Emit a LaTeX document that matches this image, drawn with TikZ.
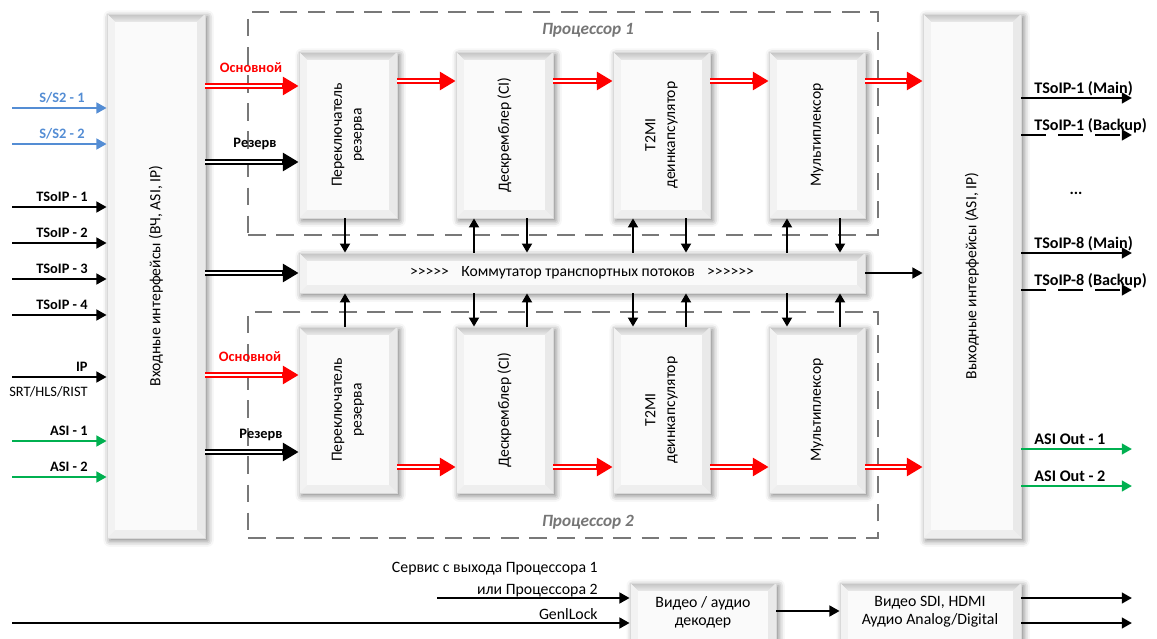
\documentclass[tikz,border=0pt]{standalone}
\usepackage{fontspec}
\setmainfont{Carlito}
\usetikzlibrary{arrows.meta,fit,shadows.blur}
\definecolor{sblue}{RGB}{84,141,212}
\definecolor{sgreen}{RGB}{0,176,80}
\definecolor{sred}{RGB}{255,0,0}
\definecolor{dashgray}{RGB}{120,120,120}
\definecolor{procgray}{RGB}{118,118,118}
\newcommand{\fblk}{\fontsize{8.9}{11.2}\selectfont}
\newcommand{\flab}{\fontsize{8.2}{9.5}\selectfont\bfseries}
\newcommand{\frlab}{\fontsize{9.2}{10}\selectfont\bfseries}
\newcommand{\fproc}{\fontsize{9.8}{11}\selectfont\bfseries\itshape}
\newcommand{\fbot}{\fontsize{9}{10.8}\selectfont}
\tikzset{
  bevelpic/.style={path picture={
    \path (path picture bounding box.north west) coordinate (pa)
          (path picture bounding box.north east) coordinate (pb)
          (path picture bounding box.south east) coordinate (pc)
          (path picture bounding box.south west) coordinate (pd);
    \shade[top color=gray!48, bottom color=gray!16] (pa) -- (pb) -- ([xshift=-4.5pt,yshift=-4.5pt]pb) -- ([xshift=4.5pt,yshift=-4.5pt]pa) -- cycle;
    \fill[gray!10] (pa) -- ([xshift=4.5pt,yshift=-4.5pt]pa) -- ([xshift=4.5pt,yshift=4.5pt]pd) -- (pd) -- cycle;
    \fill[gray!17] (pb) -- ([xshift=-4.5pt,yshift=-4.5pt]pb) -- ([xshift=-4.5pt,yshift=4.5pt]pc) -- (pc) -- cycle;
    \fill[gray!13] (pd) -- ([xshift=4.5pt,yshift=4.5pt]pd) -- ([xshift=-4.5pt,yshift=4.5pt]pc) -- (pc) -- cycle;
  }},
  blk/.style={rectangle, inner sep=0pt, draw=gray!30, line width=0.4pt, fill=gray!4,
    blur shadow={shadow xshift=1.5pt, shadow yshift=-1.5pt, shadow blur radius=3.5pt, shadow opacity=50},
    bevelpic},
  procbox/.style={rectangle, inner sep=0pt, draw=dashgray, line width=1.1pt, dash pattern=on 10pt off 6pt},
  txt/.style={font=\fblk, align=center, inner sep=0pt, text=black},
  rtxt/.style={txt, rotate=90},
  lab/.style={font=\flab, inner sep=0pt},
  rlab/.style={font=\frlab, inner sep=0pt, anchor=base west},
  bot/.style={font=\fbot, inner sep=0pt, anchor=base east},
  arr/.style={line width=1.6pt, -{Triangle[length=5.8pt,width=6pt]}},
  varr/.style={line width=1.6pt, -{Triangle[length=5.2pt,width=5.6pt]}},
  darr/.style={line width=3.4pt, -{Triangle[length=9pt,width=10pt]},
    postaction={draw=white, line width=1.1pt, -, shorten >=9.3pt}},
  bdash/.style={arr, dash pattern=on 14pt off 7pt},
}
\begin{document}
\begin{tikzpicture}[x=0.02cm,y=-0.02cm]
\useasboundingbox (0,0) rectangle (1157,639);

% processor dashed frames
\node[procbox, fit={(248,12) (878,235)}] (p1) {};
\node[procbox, fit={(248,312) (878,538)}] (p2) {};
\node[font=\fproc, text=procgray, anchor=base, inner sep=0pt] (p1l) at (588,34) {Процессор 1};
\node[font=\fproc, text=procgray, anchor=base, inner sep=0pt] (p2l) at (588,526) {Процессор 2};

% big interface blocks
\node[blk, fit={(107,14) (205,538)}] (inb) {};
\node[rtxt] (inbt) at (inb.center) {Входные интерфейсы (ВЧ, ASI, IP)};
\node[blk, fit={(923,14) (1021,538)}] (outb) {};
\node[rtxt] (outbt) at (outb.center) {Выходные интерфейсы (ASI, IP)};

% processor 1 blocks
\node[blk, fit={(299,52) (397,218)}] (sw1) {};
\node[rtxt] (sw1t) at (sw1.center) {Переключатель\\резерва};
\node[blk, fit={(456,52) (553,218)}] (ds1) {};
\node[rtxt] (ds1t) at (ds1.center) {Дескремблер (CI)};
\node[blk, fit={(613,52) (710,218)}] (t21) {};
\node[rtxt] (t21t) at (t21.center) {T2MI\\деинкапсулятор};
\node[blk, fit={(769,52) (865,218)}] (mx1) {};
\node[rtxt] (mx1t) at (mx1.center) {Мультиплексор};

% processor 2 blocks
\node[blk, fit={(299,327) (397,493)}] (sw2) {};
\node[rtxt] (sw2t) at (sw2.center) {Переключатель\\резерва};
\node[blk, fit={(456,327) (553,493)}] (ds2) {};
\node[rtxt] (ds2t) at (ds2.center) {Дескремблер (CI)};
\node[blk, fit={(613,327) (710,493)}] (t22) {};
\node[rtxt] (t22t) at (t22.center) {T2MI\\деинкапсулятор};
\node[blk, fit={(769,327) (865,493)}] (mx2) {};
\node[rtxt] (mx2t) at (mx2.center) {Мультиплексор};

% switch bar
\node[blk, fit={(299,253) (865,293)}] (bar) {};
\node[txt] (bart) at (582,273) {>{}>{}>{}>{}>\hspace{7pt}Коммутатор транспортных потоков\hspace{7pt}>{}>{}>{}>{}>{}>};

% bottom blocks
\node[blk, fit={(630,583) (776,648)}] (dec) {};
\node[txt, font=\fbot, align=center] (dect) at (703,612) {Видео / аудио\\[-0.5pt]декодер};
\node[blk, fit={(840,583) (1021,648)}] (avo) {};
\node[txt, font=\fbot, align=center] (avot) at (930,612) {Видео SDI, HDMI\\[-0.5pt]Аудио Analog/Digital};

% ---------- inputs ----------
\coordinate (i1) at (12,108);
\draw[arr, sblue] (i1) -- (i1 -| inb.west);
\node[lab, text=sblue, anchor=base east] (i1l) at (85,102) {S/S2 - 1};
\coordinate (i2) at (12,144);
\draw[arr, sblue] (i2) -- (i2 -| inb.west);
\node[lab, text=sblue, anchor=base east] (i2l) at (85,138) {S/S2 - 2};
\coordinate (i3) at (12,207);
\draw[arr] (i3) -- (i3 -| inb.west);
\node[lab, anchor=base east] (i3l) at (88,201) {TSoIP - 1};
\coordinate (i4) at (12,243);
\draw[arr] (i4) -- (i4 -| inb.west);
\node[lab, anchor=base east] (i4l) at (88,237) {TSoIP - 2};
\coordinate (i5) at (12,279);
\draw[arr] (i5) -- (i5 -| inb.west);
\node[lab, anchor=base east] (i5l) at (88,273) {TSoIP - 3};
\coordinate (i6) at (12,315);
\draw[arr] (i6) -- (i6 -| inb.west);
\node[lab, anchor=base east] (i6l) at (88,309) {TSoIP - 4};
\coordinate (i7) at (12,377);
\draw[arr] (i7) -- (i7 -| inb.west);
\node[lab, anchor=base east] (i7l) at (88,371) {IP};
\node[inner sep=0pt, font=\fontsize{8.2}{9.5}\selectfont, anchor=base east] (i7s) at (88,396) {SRT/HLS/RIST};
\coordinate (i8) at (12,441);
\draw[arr, sgreen] (i8) -- (i8 -| inb.west);
\node[lab, anchor=base east] (i8l) at (88,435) {ASI - 1};
\coordinate (i9) at (12,477);
\draw[arr, sgreen] (i9) -- (i9 -| inb.west);
\node[lab, anchor=base east] (i9l) at (88,471) {ASI - 2};

% ---------- processor 1 flow ----------
\draw[darr, sred] (inb.east |- 0,86) -- (sw1.west |- 0,86);
\node[lab, text=sred, anchor=base] (m1l) at (251,72) {Основной};
\draw[darr, black] (inb.east |- 0,162) -- (sw1.west |- 0,162);
\node[lab, anchor=base] (r1l) at (255,147) {Резерв};
\draw[darr, sred] (sw1.east |- 0,81) -- (ds1.west |- 0,81);
\draw[darr, sred] (ds1.east |- 0,81) -- (t21.west |- 0,81);
\draw[darr, sred] (t21.east |- 0,81) -- (mx1.west |- 0,81);
\draw[darr, sred] (mx1.east |- 0,81) -- (outb.west |- 0,81);

% ---------- processor 2 flow ----------
\draw[darr, sred] (inb.east |- 0,375) -- (sw2.west |- 0,375);
\node[lab, text=sred, anchor=base] (m2l) at (250,361) {Основной};
\draw[darr, black] (inb.east |- 0,452) -- (sw2.west |- 0,452);
\node[lab, anchor=base] (r2l) at (261,438) {Резерв};
\draw[darr, sred] (sw2.east |- 0,467) -- (ds2.west |- 0,467);
\draw[darr, sred] (ds2.east |- 0,467) -- (t22.west |- 0,467);
\draw[darr, sred] (t22.east |- 0,467) -- (mx2.west |- 0,467);
\draw[darr, sred] (mx2.east |- 0,467) -- (outb.west |- 0,467);

% ---------- switch bar ----------
\draw[darr, black] (inb.east |- 0,273) -- (bar.west |- 0,273);
\draw[arr] (bar.east |- 0,273) -- (outb.west |- 0,273);

% vertical arrows, top
\draw[varr] (sw1.south -| 345,0) -- (bar.north -| 345,0);
\draw[varr] (bar.north -| 474,0) -- (ds1.south -| 474,0);
\draw[varr] (ds1.south -| 527,0) -- (bar.north -| 527,0);
\draw[varr] (bar.north -| 633,0) -- (t21.south -| 633,0);
\draw[varr] (t21.south -| 686,0) -- (bar.north -| 686,0);
\draw[varr] (bar.north -| 787,0) -- (mx1.south -| 787,0);
\draw[varr] (mx1.south -| 840,0) -- (bar.north -| 840,0);
% vertical arrows, bottom
\draw[varr] (sw2.north -| 345,0) -- (bar.south -| 345,0);
\draw[varr] (bar.south -| 474,0) -- (ds2.north -| 474,0);
\draw[varr] (ds2.north -| 527,0) -- (bar.south -| 527,0);
\draw[varr] (bar.south -| 633,0) -- (t22.north -| 633,0);
\draw[varr] (t22.north -| 686,0) -- (bar.south -| 686,0);
\draw[varr] (bar.south -| 787,0) -- (mx2.north -| 787,0);
\draw[varr] (mx2.north -| 840,0) -- (bar.south -| 840,0);

% ---------- outputs ----------
\coordinate (o1) at (1132,98);
\draw[arr] (outb.east |- o1) -- (o1);
\node[rlab] (o1l) at (1034,93) {TSoIP-1 (Main)};
\coordinate (o2) at (1132,135);
\draw[bdash] (outb.east |- o2) -- (o2);
\node[rlab] (o2l) at (1034,130) {TSoIP-1 (Backup)};
\node[font=\frlab, inner sep=0pt] (dots) at (1076,193) {...};
\coordinate (o3) at (1132,253);
\draw[arr] (outb.east |- o3) -- (o3);
\node[rlab] (o3l) at (1034,248) {TSoIP-8 (Main)};
\coordinate (o4) at (1132,290);
\draw[bdash] (outb.east |- o4) -- (o4);
\node[rlab] (o4l) at (1034,285) {TSoIP-8 (Backup)};
\coordinate (o5) at (1132,449);
\draw[arr, sgreen] (outb.east |- o5) -- (o5);
\node[rlab] (o5l) at (1034,444) {ASI Out - 1};
\coordinate (o6) at (1132,486);
\draw[arr, sgreen] (outb.east |- o6) -- (o6);
\node[rlab] (o6l) at (1034,481) {ASI Out - 2};

% ---------- decoder section ----------
\node[bot] (svc1) at (598,572) {Сервис с выхода Процессора 1};
\node[bot] (svc2) at (598,594) {или Процессора 2};
\coordinate (b1) at (437,598);
\draw[arr] (b1) -- (b1 -| dec.west);
\node[bot] (gll) at (598,619) {GenlLock};
\coordinate (b2) at (12,623);
\draw[arr] (b2) -- (b2 -| dec.west);
\draw[arr] (dec.east |- 0,611) -- (avo.west |- 0,611);
\coordinate (b3) at (1132,598);
\draw[arr] (avo.east |- b3) -- (b3);
\coordinate (b4) at (1132,623);
\draw[arr] (avo.east |- b4) -- (b4);
\end{tikzpicture}
\end{document}
